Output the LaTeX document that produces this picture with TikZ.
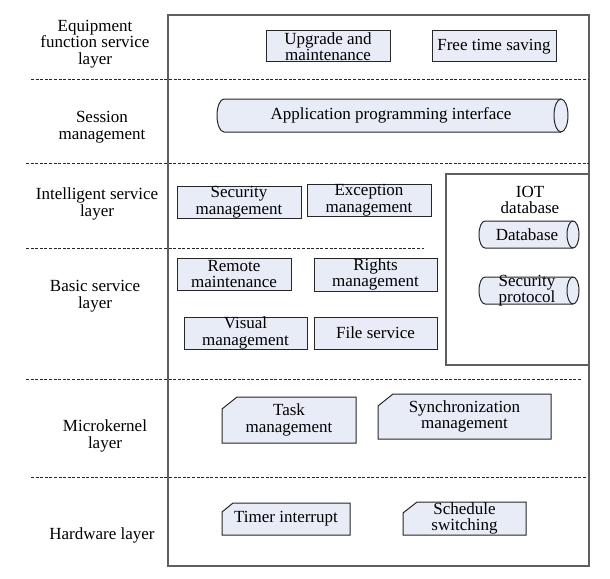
\documentclass[tikz,border=0pt]{standalone}
\usepackage{fontspec}
\setmainfont{Liberation Serif}
\definecolor{boxfill}{RGB}{231,236,247}
\definecolor{framecol}{RGB}{95,95,95}
\tikzset{
  txt/.style={align=center, font=\fontsize{17}{16.5}\selectfont, inner sep=0pt},
  lbl/.style={txt},
  rbox/.style={txt, draw=black!85, fill=boxfill, line width=1pt},
  shp/.style={draw=black!85, fill=boxfill, line width=1pt},
  sep/.style={dash pattern=on 3pt off 1.6pt, line width=0.8pt, draw=black!85},
  frm/.style={draw=framecol, line width=1.5pt},
}
\newcommand\cutshape[6]{\filldraw[shp] ({#1+#5},-#2) -- (#3,-#2) -- (#3,-#4) -- (#1,-#4) -- (#1,{-#2-#6}) -- cycle;}
\newcommand\cylshape[5]{%
  \filldraw[shp] ({#1+#5},-#2) -- ({#3-#5},-#2)
     arc[start angle=90,end angle=-90,x radius=#5,y radius={(#4-#2)/2}]
     -- ({#1+#5},-#4)
     arc[start angle=270,end angle=90,x radius=#5,y radius={(#4-#2)/2}] -- cycle;
  \draw[shp, fill=none] ({#3-#5},-#2) arc[start angle=90,end angle=270,x radius=#5,y radius={(#4-#2)/2}];}
\begin{document}
\begin{tikzpicture}[x=1pt,y=1pt]
\useasboundingbox (0,0) rectangle (610,-578);
\fill[white] (0,0) rectangle (610,-578);
% outer frame
\draw[frm] (168,-15) rectangle (589,-566);
% layer separators
\draw[sep] (31,-79) -- (589,-79);
\draw[sep] (26,-163) -- (589,-163);
\draw[sep] (26,-248) -- (424,-248);
\draw[sep] (26,-379) -- (581,-379);
\draw[sep] (31,-477) -- (587,-477);
% IOT database container
\draw[frm, line width=1.2pt, fill=white] (446,-174) rectangle (589,-365);
% layer labels
\node[lbl] (l1) at (95,-44) {Equipment\\function service\\layer};
\node[lbl] (l2) at (102,-127) {Session\\management};
\node[lbl] (l3) at (97,-204) {Intelligent service\\layer};
\node[lbl] (l4) at (95,-296) {Basic service\\layer};
\node[lbl] (l5) at (105,-436) {Microkernel\\layer};
\node[lbl] (l6) at (102,-535) {Hardware layer};
% equipment function service layer
\node[rbox, minimum width=124pt, minimum height=31pt] (upg) at (328,-46.5) {Upgrade and\\maintenance};
\node[rbox, minimum width=124pt, minimum height=31pt] (free) at (494,-46.5) {Free time saving};
% session management
\cylshape{217}{99}{568}{132}{7}
\node[txt] (api) at (391,-115.5) {Application programming interface};
% intelligent service layer
\node[rbox, minimum width=124pt, minimum height=32pt] (secm) at (239,-202) {Security\\management};
\node[rbox, minimum width=124pt, minimum height=32pt] (excm) at (369,-200) {Exception\\management};
% basic service layer
\node[rbox, minimum width=114pt, minimum height=32pt] (remm) at (234,-274) {Remote\\maintenance};
\node[rbox, minimum width=123pt, minimum height=33pt] (rigm) at (375.5,-274.5) {Rights\\management};
\node[rbox, minimum width=123pt, minimum height=32pt] (vism) at (245.5,-333) {Visual\\management};
\node[rbox, minimum width=123pt, minimum height=32pt] (file) at (375.5,-333) {File service};
% IOT database
\node[txt] (iot) at (530,-200) {IOT\\database};
\cylshape{479}{221}{579}{248}{6}
\node[txt] (db) at (527,-234.5) {Database};
\cylshape{479}{277}{579}{304}{6}
\node[txt] (sp) at (527,-290.5) {Security\\protocol};
% microkernel layer
\cutshape{222}{397}{356}{443}{15}{12}
\node[txt] (task) at (289,-420) {Task\\management};
\cutshape{378}{394}{551}{439}{15}{12}
\node[txt] (sync) at (464.5,-416.5) {Synchronization\\management};
% hardware layer
\cutshape{222}{503}{350}{535}{11}{9}
\node[txt] (timer) at (286,-519) {Timer interrupt};
\cutshape{403}{502}{526}{535}{14}{11}
\node[txt] (sched) at (464.5,-518.5) {Schedule\\switching};
\end{tikzpicture}
\end{document}
